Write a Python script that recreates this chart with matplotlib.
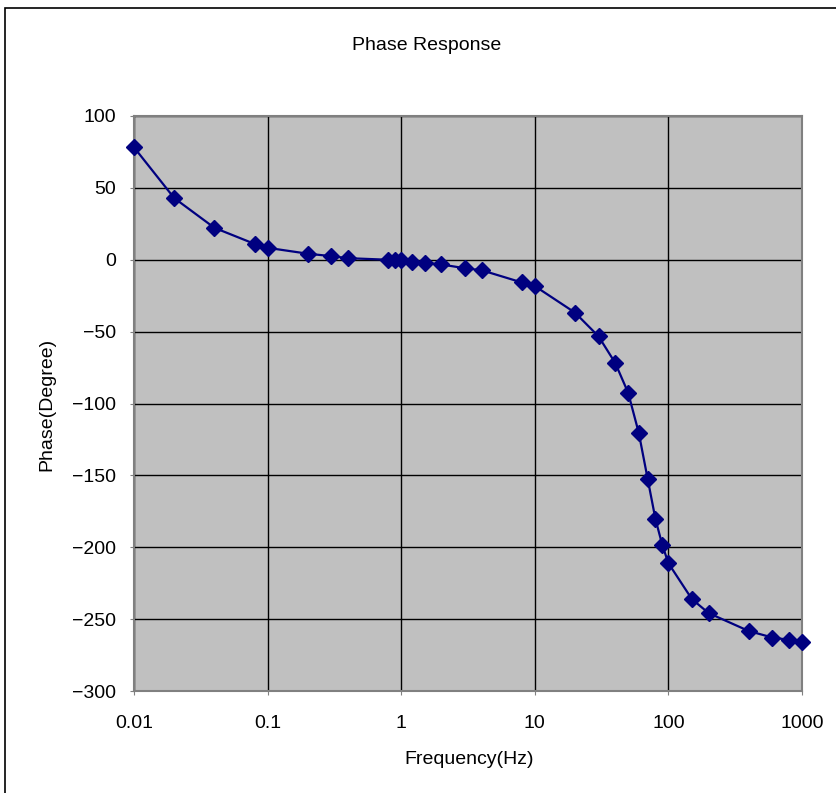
import matplotlib
matplotlib.use("Agg")
import matplotlib.pyplot as plt
from matplotlib.patches import Rectangle

plt.rcParams['font.family'] = ['Liberation Sans', 'DejaVu Sans']

# Frequency (Hz) and measured phase (degrees)
freq_hz = [0.01, 0.02, 0.04, 0.08, 0.1, 0.2, 0.3, 0.4, 0.8, 0.9, 1, 1.2, 1.5, 2, 3, 4,
           8, 10, 20, 30, 40, 50, 60, 70, 80, 90, 100, 150, 200, 400, 600, 800, 1000]
phase_deg = [78.2, 42.9, 22.2, 11.0, 8.3, 4.2, 2.5, 1.1, 0.0, -0.5, -0.5, -1.9, -2.1, -3.3,
             -5.9, -7.3, -15.8, -18.3, -36.8, -53.3, -71.8, -92.6, -120.4, -152.6, -180.4,
             -198.4, -211.1, -236.1, -245.8, -258.3, -262.8, -264.4, -265.6]

x_ticks = [0.01, 0.1, 1, 10, 100, 1000]
x_tick_labels = ["0.01", "0.1", "1", "10", "100", "1000"]
y_ticks = [-300, -250, -200, -150, -100, -50, 0, 50, 100]

W, H = 837, 793
fig = plt.figure(figsize=(W / 100, H / 100), dpi=100)
ax = fig.add_axes([134 / W, 1 - 691 / H, 668 / W, 575 / H])

# outer chart frame
fig.patches.append(Rectangle((5 / W, -0.05), 1.2, 1 - 8 / H + 0.05,
                             transform=fig.transFigure, fill=False,
                             edgecolor='black', linewidth=1.2))

ax.set_facecolor('#C0C0C0')
ax.set_xscale('log')
ax.set_xlim(0.01, 1000)
ax.set_ylim(-300, 100)

ax.plot(freq_hz, phase_deg, color='#000080', linewidth=1.6, marker='D',
        markersize=8, markerfacecolor='#000080', markeredgecolor='#000080',
        zorder=3, clip_on=False)

ax.set_xticks(x_ticks)
ax.set_xticklabels(x_tick_labels)
ax.minorticks_off()
ax.set_yticks(y_ticks)
ax.set_yticklabels([str(v).replace('-', '\u2212') for v in y_ticks])

ax.grid(True, color='black', linewidth=1.0)
ax.set_axisbelow(True)
for s in ax.spines.values():
    s.set_color('#808080')
    s.set_linewidth(1.5)
ax.tick_params(axis='both', which='both', length=3, color='#808080', labelsize=14)
ax.tick_params(axis='y', pad=10)
ax.tick_params(axis='x', pad=14)

fig.text(427 / W, 1 - 45 / H, "Phase Response", ha='center', va='center', fontsize=14)
fig.text(469 / W, 1 - 760 / H, "Frequency(Hz)", ha='center', va='center', fontsize=14)
fig.text(47 / W, 1 - 404 / H, "Phase(Degree)", ha='center', va='center',
         rotation=90, fontsize=14)

fig.savefig("out.png", dpi=100)
